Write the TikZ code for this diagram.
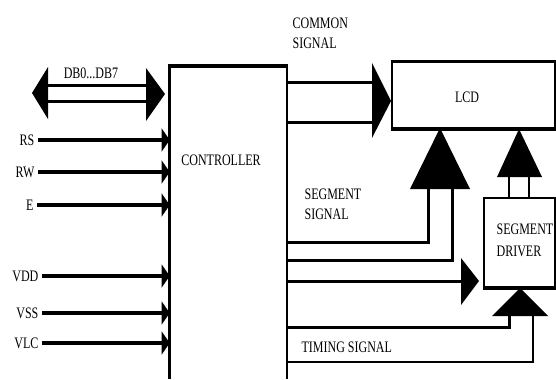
\documentclass[tikz,border=0pt]{standalone}
\usepackage{fontspec}
\setmainfont{Liberation Serif}
\usetikzlibrary{arrows.meta}
% narrow, tall lettering used for every label
\newcommand{\nw}[1]{\scalebox{0.75}[1]{#1}}

\begin{document}
\begin{tikzpicture}[x=0.75pt,y=-0.75pt,
  lbl/.style={font=\fontsize{12}{15}\selectfont, inner sep=1pt, align=left},
  inarrow/.style={line width=3pt, -{Triangle[length=6pt,width=17pt]}},
  bus/.style={line width=2.25pt},
  busthin/.style={line width=1.6pt},
  head/.style={fill=black},
  box/.style={draw, line width=1.5pt, inner sep=0pt},
]
\useasboundingbox (0,0) rectangle (556,379);

% ---------------- controller (open at the bottom)
\node[inner sep=0pt, minimum width=87.75pt, minimum height=234.75pt] (ctrl) at (228.5,222.5) {};
\draw[line width=2.25pt] (ctrl.south west) -- (ctrl.north west);
\draw[line width=3pt] ([xshift=-1.1pt]ctrl.north west) -- ([xshift=0.75pt]ctrl.north east);
\draw[line width=1.5pt] (ctrl.north east) -- (ctrl.south east);
\node[lbl] (ctrltxt) at (221,160) {\nw{CONTROLLER}};

% ---------------- LCD and segment driver
\node[box, minimum width=122.25pt, minimum height=49.5pt] (lcd) at (473.5,95) {};
\draw[line width=2.5pt] (lcd.south west) -- (lcd.south east);
\draw[line width=2.25pt] (lcd.north west) -- (lcd.north east);
\node[lbl] (lcdtxt) at (467,97) {\nw{LCD}};

\node[box, minimum width=53.25pt, minimum height=66.75pt] (drv) at (519.5,242.5) {};
\draw[line width=2.75pt] (drv.south west) -- (drv.south east);
\node[lbl, anchor=west, font=\fontsize{12}{16.5}\selectfont] (drvtxt) at (495,240) {\nw{SEGMENT}\\\nw{DRIVER}};

% ---------------- data bus DB0...DB7
\coordinate (dbL) at (47,85);
\coordinate (dbR) at (147,85);
\draw[bus] (dbL) -- (dbR);
\draw[bus] ([yshift=-12pt]dbL) -- ([yshift=-12pt]dbR);
\fill[head] (48,67) -- (32,93) -- (48,119) -- cycle;
\fill[head] (146,68) -- (165,94) -- (146,121) -- cycle;
\node[lbl] (db) at (91,73) {\nw{DB0...DB7}};

% ---------------- control and supply inputs
\node[lbl, anchor=east] (rs)  at (36,140) {\nw{RS}};
\node[lbl, anchor=east] (rw)  at (36,172) {\nw{RW}};
\node[lbl, anchor=east] (en)  at (35,205) {\nw{E}};
\node[lbl, anchor=east] (vdd) at (40,276) {\nw{VDD}};
\node[lbl, anchor=east] (vss) at (40,313) {\nw{VSS}};
\node[lbl, anchor=east] (vlc) at (40,343) {\nw{VLC}};
\foreach \s in {rs,rw,en,vdd,vss,vlc}
  \draw[inarrow] ([xshift=1.5pt]\s.east) -- (\s.east -| ctrl.west);

% ---------------- common signal bus
\node[lbl, anchor=west] (comtxt) at (291,33) {\nw{COMMON}\\\nw{SIGNAL}};
\coordinate (cA) at (373,82);
\coordinate (cB) at (373,122);
\draw[bus] (cA -| ctrl.east) -- (cA);
\draw[bus] (cB -| ctrl.east) -- (cB);
\fill[head] (372,63) -- (391,101) -- (372,138) -- cycle;

% ---------------- segment signal bus
\node[lbl, anchor=west] (segtxt) at (303,204) {\nw{SEGMENT}\\\nw{SIGNAL}};
\coordinate (sA) at (428,242);
\coordinate (sB) at (452,260);
\draw[bus] (sA -| ctrl.east) -- (sA) -- (428,187);
\draw[bus] (sB -| ctrl.east) -- (sB) -- (452,187);
\fill[head] (410,189) -- (440,128) -- (470,189) -- cycle;

% ---------------- controller to segment driver
\coordinate (hA) at (463,281);
\draw[bus] (hA -| ctrl.east) -- (hA);
\fill[head] (461,258) -- (479,281) -- (461,305) -- cycle;

% ---------------- segment driver to LCD
\draw[busthin] (509,198) -- (509,175);
\draw[busthin] (529,198) -- (529,175);
\fill[head] (497,177) -- (519,129) -- (542,177) -- cycle;

% ---------------- timing signal
\node[lbl, anchor=west] (timtxt) at (300,347) {\nw{TIMING SIGNAL}};
\coordinate (tA) at (509,327);
\coordinate (tB) at (533,362);
\draw[bus] (tA -| ctrl.east) -- (tA) -- (509,314);
\draw[busthin] (tB -| ctrl.east) -- (tB) -- (533,314);
\fill[head] (492,316) -- (520,288) -- (548,316) -- cycle;
\end{tikzpicture}
\end{document}
